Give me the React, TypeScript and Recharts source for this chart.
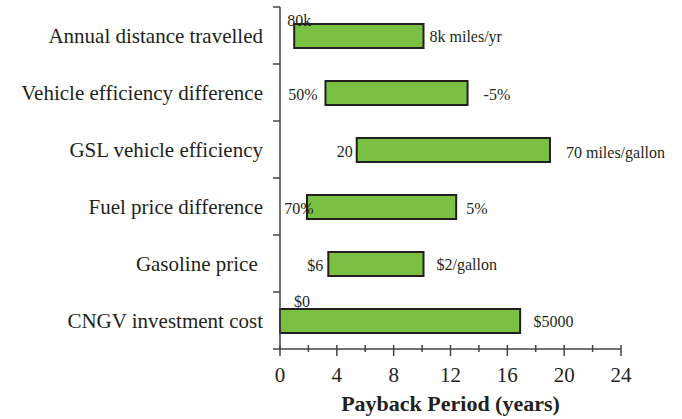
import React from 'react';
import { BarChart, Bar, XAxis, YAxis } from 'recharts';

// sensitivity of the payback period to each input
const categories = [
  'Annual distance travelled',
  'Vehicle efficiency difference',
  'GSL vehicle efficiency',
  'Fuel price difference',
  'Gasoline price ',
  'CNGV investment cost',
];
const lowEnd = [1.0, 3.2, 5.4, 1.9, 3.4, 0];
const highEnd = [10.1, 13.2, 19.0, 12.4, 10.1, 16.9];
const lowLabels = ['80k', '50%', '20', '70%', '$6', '$0'];
const highLabels = ['8k miles/yr', '-5%', '70 miles/gallon', '5%', '$2/gallon', '$5000'];
const yearTicks = [0, 2, 4, 6, 8, 10, 12, 14, 16, 18, 20, 22, 24];
const axisTitle = 'Payback Period (years)';

// hand placed end labels (offsets from the bar ends, px)
const lowPlace = [
  { anchor: 'start', dx: -7, dy: -10 },
  { anchor: 'end', dx: -8, dy: 7 },
  { anchor: 'end', dx: -4, dy: 6.5 },
  { anchor: 'end', dx: 6.5, dy: 7 },
  { anchor: 'end', dx: -5, dy: 7 },
  { anchor: 'start', dx: 14, dy: -14 },
];
const highPlace = [
  { dx: 6, dy: 6 },
  { dx: 16, dy: 7 },
  { dx: 16, dy: 8 },
  { dx: 10, dy: 7 },
  { dx: 13, dy: 6 },
  { dx: 13.5, dy: 6 },
];

const W = 682;
const H = 419;
const TOP = 7;
const AXIS_H = 70;
const YAXIS_W = 280;
const RIGHT = 61;
const AXIS_Y = H - AXIS_H;
const BAND = (H - TOP - AXIS_H) / categories.length;
const INK = '#231f20';
const AXIS = '#444';
const SERIF = '"Liberation Serif", "Times New Roman", serif';

const data = categories.map((name, i) => ({
  name,
  range: [lowEnd[i], highEnd[i]],
  lowLabel: lowLabels[i],
  highLabel: highLabels[i],
  idx: i,
}));

const BarShape = (props: any) => {
  const { x, y, width, height, payload } = props;
  const i = payload.idx;
  const cy = y + height / 2;
  const lp = lowPlace[i];
  const hp = highPlace[i];
  return (
    <g>
      <rect x={x} y={y} width={width} height={height} fill="#7ac143" stroke={INK} strokeWidth={2} />
      <text x={x + lp.dx} y={cy + lp.dy} textAnchor={lp.anchor} fontSize={16} fontFamily={SERIF} fill={INK}>
        {payload.lowLabel}
      </text>
      <text x={x + width + hp.dx} y={cy + hp.dy} textAnchor="start" fontSize={16} fontFamily={SERIF} fill={INK}>
        {payload.highLabel}
      </text>
    </g>
  );
};

const CategoryTick = (props: any) => {
  const { y, payload, index } = props;
  const top = y - BAND / 2;
  return (
    <g>
      <line x1={YAXIS_W - 7} x2={YAXIS_W} y1={top} y2={top} stroke={AXIS} strokeWidth={1.5} />
      {index === categories.length - 1 && (
        <line x1={YAXIS_W - 7} x2={YAXIS_W} y1={y + BAND / 2} y2={y + BAND / 2} stroke={AXIS} strokeWidth={1.5} />
      )}
      <text
        x={YAXIS_W - 17}
        y={y}
        dy="0.35em"
        textAnchor="end"
        fontSize={21}
        fontFamily={SERIF}
        fill={INK}
        style={{ whiteSpace: 'pre' }}
      >
        {payload.value}
      </text>
    </g>
  );
};

const YearTick = (props: any) => {
  const { x, payload } = props;
  const major = payload.value % 4 === 0;
  return (
    <g>
      <line x1={x} x2={x} y1={AXIS_Y - 4} y2={AXIS_Y + (major ? 7 : 3)} stroke={AXIS} strokeWidth={1.5} />
      {major && (
        <text x={x} y={AXIS_Y + 33} textAnchor="middle" fontSize={21} fontFamily={SERIF} fill={INK}>
          {payload.value}
        </text>
      )}
    </g>
  );
};

const TitleLabel = (props: any) => {
  const vb = props.viewBox;
  return (
    <text
      x={vb.x + vb.width / 2}
      y={vb.y + vb.height - 8}
      textAnchor="middle"
      fontSize={22}
      fontWeight="bold"
      fontFamily={SERIF}
      fill={INK}
    >
      {axisTitle}
    </text>
  );
};

export default function App() {
  return (
    <div style={{ position: 'absolute', left: 0, top: 0, width: W, height: H, background: '#fff' }}>
      <BarChart
        width={W}
        height={H}
        data={data}
        layout="vertical"
        margin={{ top: TOP, right: RIGHT, bottom: 0, left: 0 }}
      >
        <XAxis
          type="number"
          domain={[0, 24]}
          ticks={yearTicks}
          interval={0}
          height={AXIS_H}
          tickLine={false}
          axisLine={{ stroke: AXIS, strokeWidth: 1.5 }}
          tick={<YearTick />}
          label={{ content: <TitleLabel /> }}
        />
        <YAxis
          type="category"
          dataKey="name"
          width={YAXIS_W}
          tickLine={false}
          axisLine={{ stroke: AXIS, strokeWidth: 1.5 }}
          tick={<CategoryTick />}
          interval={0}
        />
        <Bar dataKey="range" barSize={24} isAnimationActive={false} shape={<BarShape />} />
      </BarChart>
    </div>
  );
}
